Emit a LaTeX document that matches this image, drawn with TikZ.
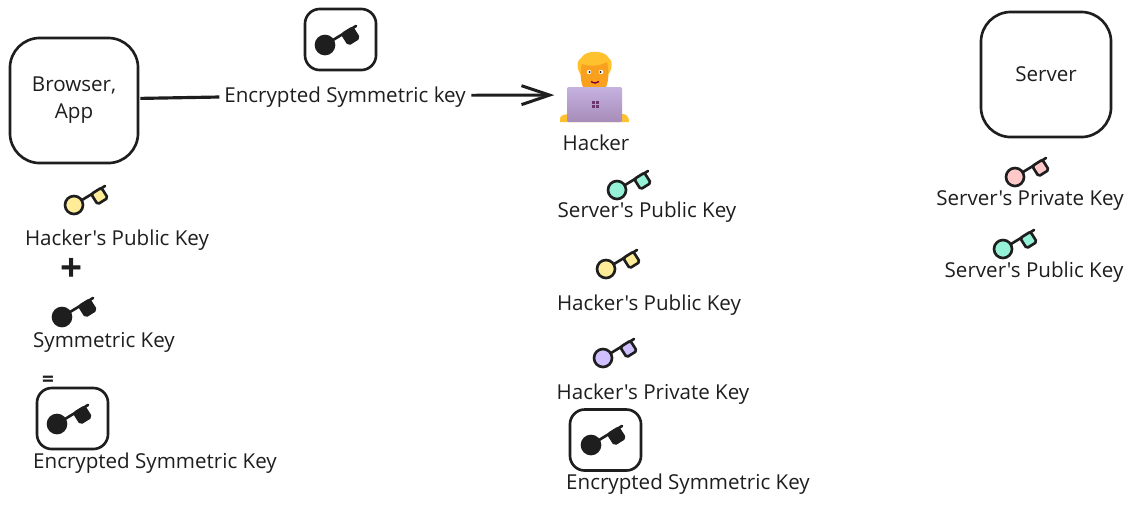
\documentclass[tikz,border=0pt]{standalone}
\usepackage{fontspec}
\usetikzlibrary{arrows.meta}
\newfontfamily\sketchfont{Open Sans}
\definecolor{ink}{HTML}{1E1E1E}
\definecolor{keyyellow}{HTML}{FFEC99}
\definecolor{keyteal}{HTML}{96F2D7}
\definecolor{keyviolet}{HTML}{D0BFFF}
\definecolor{keypink}{HTML}{FFC9C9}
\definecolor{hairgold}{HTML}{FFC22E}
\definecolor{skinorange}{HTML}{F9A11F}
\definecolor{lidtop}{HTML}{C6B2E0}
\definecolor{lidlow}{HTML}{A78BB8}
\tikzset{
	pics/keypic/.style={code={
		\draw[ink, line width=0.75pt, fill=#1] (0,0) circle (9);
		\draw[ink, line width=0.75pt, line cap=round] (8,-5)--(31,-19);
		\draw[ink, line width=0.75pt, fill=#1, rounded corners=0.5pt, line join=round] (17.2,-10.9)--(27.4,-17.3)--(33.8,-7.1)--(23.6,-0.7)--cycle;
	}},
	softbox/.style={draw=ink, line width=0.75pt, rounded corners=8.5pt},
	tinybox/.style={draw=ink, line width=0.75pt, rounded corners=4.2pt, minimum width=0.71cm, minimum height=0.61cm},
	caption/.style={text=ink, inner sep=0pt}
}
\begin{document}
\begin{tikzpicture}[x=0.01cm, y=-0.01cm, font=\sketchfont\fontsize{5.85}{7.7}\selectfont]
	\useasboundingbox (0,0) rectangle (1137,505);
	\fill[white] (0,0) rectangle (1137,505);
	% boxes
	\node[softbox, minimum width=1.28cm, minimum height=1.25cm, align=center, caption, inner sep=0pt] (browser) at (74,100.5) {Browser,\\App};
	\node[softbox, minimum width=1.30cm, minimum height=1.25cm, caption] (server) at (1046,74.5) {Server};
	\node[tinybox] (topbox) at (340.5,39.5) {};
	\node[tinybox] (leftbox) at (72.5,418.5) {};
	\node[tinybox] (midbox) at (605.5,440) {};
	% keys
	\foreach \kx/\ky/\kcol in {74/205/keyyellow, 617/190/keyteal, 606/269/keyyellow, 603/358/keyviolet, 1015/177/keypink, 1003/249/keyteal, 62/317/ink, 57/424/ink, 325/45/ink, 591/445/ink}
		\pic at (\kx,\ky) {keypic=\kcol};
	% captions
	\node[caption] (hpubleft) at (117,240) {Hacker's Public Key};
	\node[caption, font=\sketchfont\bfseries\fontsize{11}{11}\selectfont] (plus) at (72,270) {+};
	\node[caption] (symleft) at (104,342) {Symmetric Key};
	\node[caption, font=\sketchfont\bfseries\fontsize{5.9}{7.7}\selectfont] (equals) at (48,381) {=};
	\node[caption] (encleft) at (155,463) {Encrypted Symmetric Key};
	\node[caption] (enctop) at (345,97) {Encrypted Symmetric key};
	\node[caption] (hackername) at (596,143) {Hacker};
	\node[caption] (spubmid) at (647,212) {Server's Public Key};
	\node[caption] (hpubmid) at (649,305) {Hacker's Public Key};
	\node[caption] (hprivmid) at (653,394) {Hacker's Private Key};
	\node[caption] (encmid) at (688,484) {Encrypted Symmetric Key};
	\node[caption] (sprivright) at (1030,200) {Server's Private Key};
	\node[caption] (spubright) at (1034,272) {Server's Public Key};
	% hacker at the laptop
	\node[minimum width=0.76cm, minimum height=0.70cm, inner sep=0pt] (hacker) at (593,87) {};
	\fill[hairgold] (560,122) -- (560,118) .. controls (561,115) and (565,114) .. (568,114) -- (622,114) .. controls (625,114) and (629,115) .. (629,122) -- cycle;
	\fill[hairgold] (582,76) .. controls (576,70) and (576,60) .. (582,57) .. controls (586,50) and (604,50) .. (608,57) .. controls (613,60) and (613,70) .. (607,76) -- cycle;
	\fill[skinorange] (583,87) .. controls (580,80) and (580,70) .. (582,64) .. controls (590,67) and (600,66) .. (607,62) .. controls (609,70) and (609,80) .. (606,87) -- cycle;
	\fill[white] (589,72) circle (2.2) (601,72) circle (2.2);
	\fill[ink] (589.5,72) circle (1.2) (600.5,72) circle (1.2);
	\draw[purple!70!black, line width=0.4pt] (591,81.5) .. controls (594,83.5) and (597,83.5) .. (599,81.5);
	\shade[top color=lidtop, bottom color=lidlow, rounded corners=0.4pt] (567,87) rectangle (622,122);
	\foreach \wx/\wy in {591.5/100.5, 595.5/100.5, 591.5/104.5, 595.5/104.5}
		\fill[lidlow!55!violet!70!black] (\wx,\wy) rectangle ++(3.2,3.2);
	% connector
	\coordinate (hackertip) at ([yshift=-2.3pt]hacker.west);
	\draw[ink, line width=0.9pt] ([xshift=0.3pt, yshift=0.6pt]browser.east) -- ([xshift=-1.2pt]enctop.west);
	\draw[ink, line width=0.85pt, -{Straight Barb[length=8pt, width=5.4pt]}] ([xshift=1.4pt, yshift=0.5pt]enctop.east) -- (hackertip);
\end{tikzpicture}
\end{document}
